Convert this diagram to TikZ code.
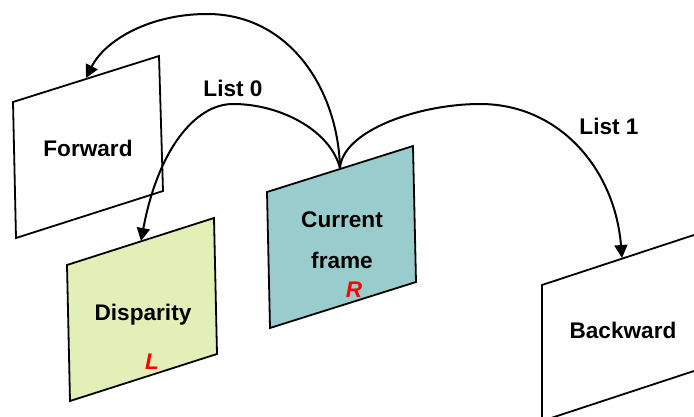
\documentclass[tikz,border=0pt]{standalone}
\usepackage{fontspec}
\setmainfont{Liberation Sans}
\usetikzlibrary{arrows.meta}
\definecolor{curfill}{RGB}{153,204,204}
\definecolor{dispfill}{RGB}{226,240,184}
\definecolor{markred}{RGB}{255,0,0}
\begin{document}
\begin{tikzpicture}[x=1pt,y=-1pt,
  sheet/.style={draw=black,line width=1.8pt,line join=miter},
  txt/.style={font=\fontsize{22.6}{26}\selectfont\bfseries,inner sep=0pt,anchor=base},
  eye/.style={font=\fontsize{22.6}{26}\selectfont\bfseries\itshape,text=markred,inner sep=0pt,anchor=base},
  link/.style={draw=black,line width=2pt,-{Triangle[length=13pt,width=13pt]}}]
\useasboundingbox (0,0) rectangle (694,417);
\clip (0,0) rectangle (694,417);

% frames, drawn as slanted sheets
\draw[sheet,fill=white]    (13,102) -- (159,56) -- (163,191) -- (16,238) -- cycle;
\draw[sheet,fill=dispfill] (67,265) -- (214,218) -- (217,354) -- (70,401) -- cycle;
\draw[sheet,fill=curfill]  (267,192) -- (413,146) -- (416,282) -- (270,328) -- cycle;
\draw[sheet,fill=white]    (542,285) -- (697,234) -- (697,370) -- (542,421) -- cycle;

% frame captions
\node[txt] (fwd)  at (88,157)  {Forward};
\node[txt] (disp) at (143,320) {Disparity};
\node[txt] (cur)  at (342,227) {Current};
\node[txt] (frm)  at (342,268) {frame};
\node[txt] (bwd)  at (623,338) {Backward};
\node[eye] (lv)   at (152,369) {L};
\node[eye] (rv)   at (354,297) {R};

% list captions
\node[txt] (l0) at (233,97)  {List 0};
\node[txt] (l1) at (609,135) {List 1};

% reference points on the sheets
\coordinate (src)    at (340,168);
\coordinate (fwdin)  at (86,78);
\coordinate (dispin) at (141,241);
\coordinate (bwdin)  at (622,258);

% prediction links
\draw[link] (src) .. controls (338,90) and (290,14) .. (207,14)
                  .. controls (150,14) and (105,40) .. (fwdin);
\draw[link] (src) .. controls (330,130) and (280,104) .. (233,104)
                  .. controls (195,104) and (158,150) .. (dispin);
\draw[link] (src) .. controls (343,130) and (420,104) .. (480,104)
                  .. controls (560,104) and (615,170) .. (bwdin);
\end{tikzpicture}
\end{document}
